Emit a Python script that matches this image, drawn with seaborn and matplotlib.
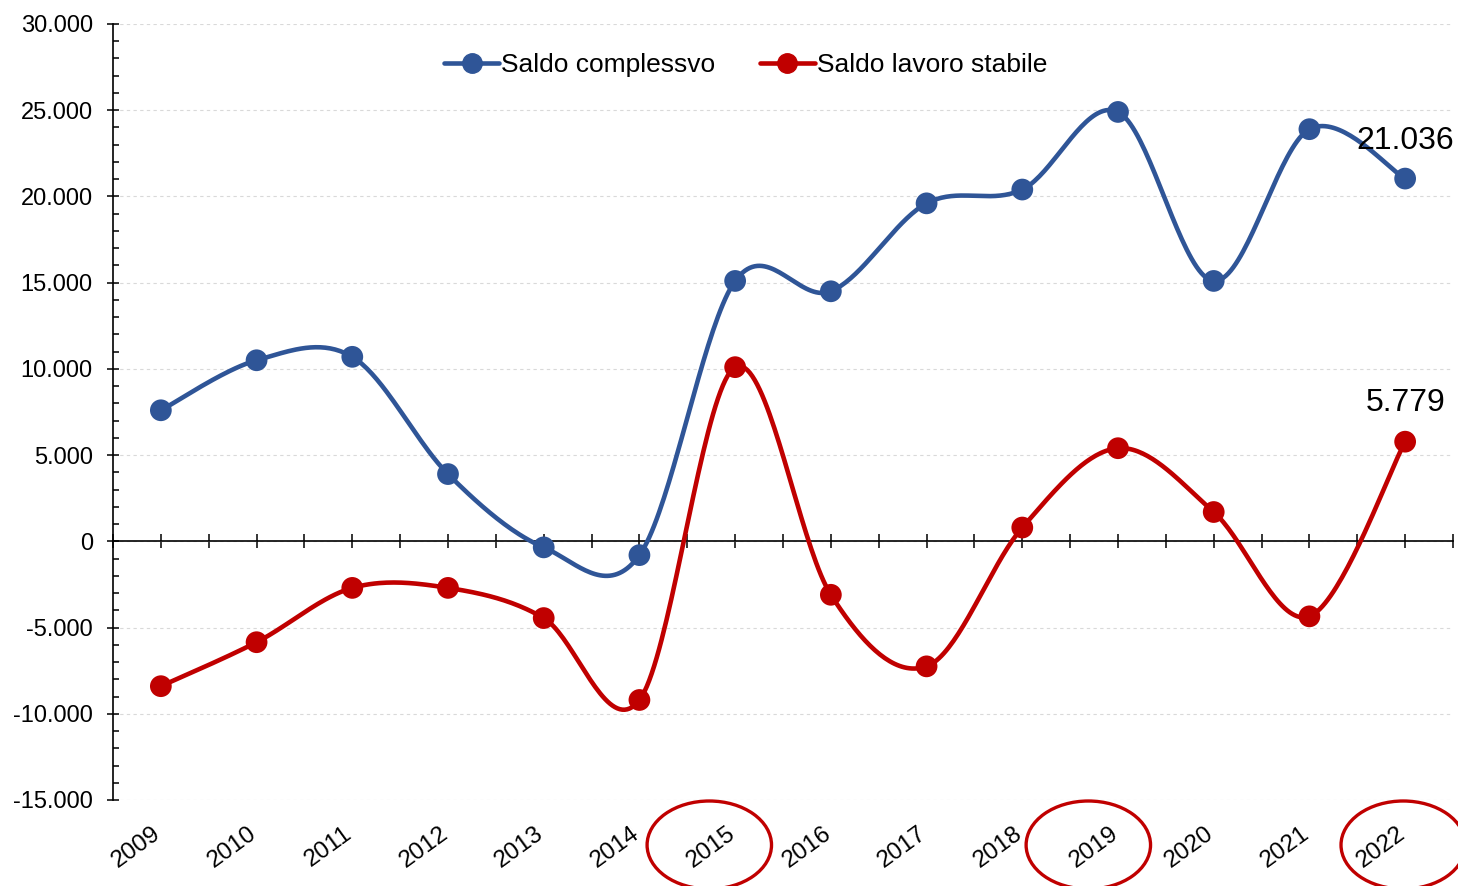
import matplotlib
matplotlib.use("Agg")
import matplotlib.pyplot as plt
import matplotlib.transforms as mtransforms
from matplotlib.patches import Ellipse
from matplotlib.lines import Line2D
from matplotlib.ticker import FuncFormatter, MultipleLocator
import seaborn as sns
import pandas as pd
import numpy as np

# values
years = ["2009", "2010", "2011", "2012", "2013", "2014", "2015",
         "2016", "2017", "2018", "2019", "2020", "2021", "2022"]
saldo_complessivo = [7600, 10500, 10700, 3900, -350, -800, 15100,
                     14500, 19600, 20400, 24900, 15100, 23900, 21036]
saldo_stabile = [-8400, -5850, -2700, -2700, -4450, -9200, 10100,
                 -3100, -7250, 800, 5400, 1700, -4350, 5779]
series_names = ["Saldo complessvo", "Saldo lavoro stabile"]
highlight_years = ["2015", "2019", "2022"]
highlight_shift = [-0.27, -0.31, -0.02]

BLUE = "#2F5597"
RED = "#C00000"


def smooth_curve(values, n=40):
    # Excel-style smoothed line: cubic Bezier per segment, controls from neighbours
    y = np.asarray(values, dtype=float)
    pts = np.column_stack([np.arange(len(y), dtype=float), y])
    t = np.linspace(0, 1, n)[:, None]
    out = []
    for i in range(len(pts) - 1):
        p0, p1 = pts[i], pts[i + 1]
        prev = pts[max(i - 1, 0)]
        nxt = pts[min(i + 2, len(pts) - 1)]
        c0 = p0 + (p1 - prev) / 6
        c1 = p1 - (nxt - p0) / 6
        seg = ((1 - t) ** 3) * p0 + 3 * ((1 - t) ** 2) * t * c0 + 3 * (1 - t) * t ** 2 * c1 + t ** 3 * p1
        out.append(seg if i == 0 else seg[1:])
    return np.vstack(out)


def it_thousands(v, pos=None):
    return f"{v:,.0f}".replace(",", ".")


sns.set_style("white")
plt.rcParams["font.family"] = ["Liberation Sans", "DejaVu Sans"]
plt.rcParams["text.color"] = "black"
plt.rcParams["xtick.color"] = "black"
plt.rcParams["ytick.color"] = "black"

points = pd.DataFrame({
    "idx": list(range(len(years))) * 2,
    "valore": saldo_complessivo + saldo_stabile,
    "serie": [series_names[0]] * len(years) + [series_names[1]] * len(years),
})
curves = []
for name, vals in zip(series_names, [saldo_complessivo, saldo_stabile]):
    c = smooth_curve(vals)
    curves.append(pd.DataFrame({"x": c[:, 0], "y": c[:, 1], "serie": name}))
curves = pd.concat(curves, ignore_index=True)
palette = {series_names[0]: BLUE, series_names[1]: RED}

fig = plt.figure(figsize=(14.58, 8.86), dpi=100)
ax = fig.add_axes([113 / 1458, 1 - 800 / 886, 1340 / 1458, 776 / 886])

sns.lineplot(data=curves, x="x", y="y", hue="serie", palette=palette, sort=False,
             estimator=None, linewidth=3.3, legend=False, ax=ax, zorder=3)
sns.scatterplot(data=points, x="idx", y="valore", hue="serie", palette=palette,
                s=245, edgecolor="none", linewidth=0, legend=False, ax=ax, zorder=4)

ax.set_xlim(-0.5, len(years) - 0.5)
ax.set_ylim(-15000, 30000)
ax.set_xlabel("")
ax.set_ylabel("")

# y axis
ax.yaxis.set_major_locator(MultipleLocator(5000))
ax.yaxis.set_minor_locator(MultipleLocator(1000))
ax.yaxis.set_major_formatter(FuncFormatter(it_thousands))
ax.tick_params(axis="y", which="major", direction="inout", length=9, width=1.1,
               labelsize=17, pad=10, colors="black", left=True)
ax.tick_params(axis="y", which="minor", direction="in", length=4, width=1.1, left=True)
ax.yaxis.grid(True, which="major", color="#d9d9d9", linestyle=(0, (3, 3)), linewidth=0.8)
ax.set_axisbelow(True)

# category axis crossing at zero
ax.spines["bottom"].set_position(("data", 0))
for s in ["top", "right"]:
    ax.spines[s].set_visible(False)
for s in ["left", "bottom"]:
    ax.spines[s].set_color("black")
    ax.spines[s].set_linewidth(1.2)
ax.set_xticks(np.arange(-0.5, len(years), 0.5))
ax.tick_params(axis="x", which="major", direction="inout", length=9.5, width=1.1,
               labelbottom=False, bottom=True)

for i, yr in enumerate(years):
    ax.annotate(yr, xy=(i, 0), xycoords=("data", "axes fraction"), xytext=(3, -16),
                textcoords="offset points", rotation=36, ha="right", va="top", fontsize=17.5)

# last value labels
ax.annotate(it_thousands(saldo_complessivo[-1]), xy=(len(years) - 1, saldo_complessivo[-1]),
            xytext=(0, 27), textcoords="offset points", ha="center", va="center", fontsize=23)
ax.annotate(it_thousands(saldo_stabile[-1]), xy=(len(years) - 1, saldo_stabile[-1]),
            xytext=(0, 28), textcoords="offset points", ha="center", va="center", fontsize=23)

# red circles round the highlighted years
blend = mtransforms.blended_transform_factory(ax.transData, fig.transFigure)
for yr, dx in zip(highlight_years, highlight_shift):
    i = years.index(yr)
    ax.add_patch(Ellipse((i + dx, 1 - 845 / 886), 1.3, 88 / 886, transform=blend,
                         fill=False, edgecolor=RED, linewidth=2.4, clip_on=False))

handles = [Line2D([], [], color=palette[n], linewidth=3.3, marker="o", markersize=14)
           for n in series_names]
ax.legend(handles, series_names, loc="center", bbox_to_anchor=(0.472, 0.947), ncol=2,
          frameon=False, fontsize=19, handlelength=2.1, handletextpad=0.05,
          columnspacing=1.7)

fig.savefig("out.png", dpi=100)
